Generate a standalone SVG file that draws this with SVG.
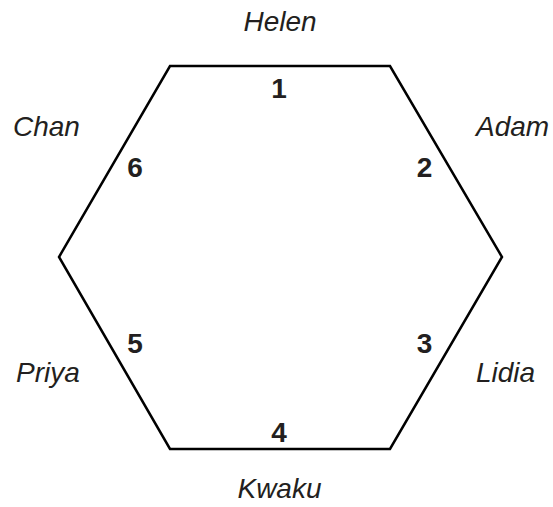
<svg xmlns="http://www.w3.org/2000/svg" width="553" height="507" viewBox="0 0 553 507">
<style>
.name{font-family:"Liberation Sans",Arial,sans-serif;font-style:italic;font-size:28px;fill:#231f20}
.num{font-family:"Liberation Sans",Arial,sans-serif;font-weight:bold;font-size:28px;fill:#231f20;text-anchor:middle}
.hex{fill:none;stroke:#000;stroke-width:2.5;stroke-linejoin:miter}
</style>
<rect width="553" height="507" fill="#fff"/>
<g id="hexagon">
<polygon class="hex" points="170,66 390,66 502,257 390,449 170,449 59,257"/>
</g>
<g id="side1"><text class="name" x="280" y="31" text-anchor="middle">Helen</text><text class="num" x="279" y="98">1</text></g>
<g id="side2"><text class="name" x="476" y="136">Adam</text><text class="num" x="424.5" y="177">2</text></g>
<g id="side3"><text class="name" x="476" y="382">Lidia</text><text class="num" x="424.5" y="353">3</text></g>
<g id="side4"><text class="name" x="279.5" y="498" text-anchor="middle">Kwaku</text><text class="num" x="279" y="442">4</text></g>
<g id="side5"><text class="name" x="16" y="382">Priya</text><text class="num" x="135" y="353">5</text></g>
<g id="side6"><text class="name" x="13" y="136">Chan</text><text class="num" x="135" y="177">6</text></g>
</svg>
